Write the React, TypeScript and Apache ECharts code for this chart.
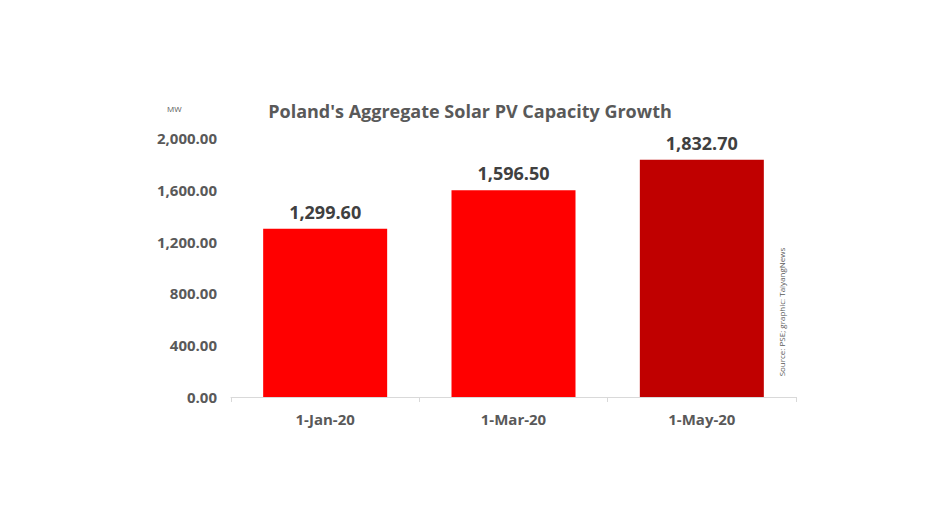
import { useEffect, useRef } from 'react';
import * as echarts from 'echarts';

const categories = ['1-Jan-20', '1-Mar-20', '1-May-20'];
const capacityMW = [1299.6, 1596.5, 1832.7];
const barColors = ['#ff0000', '#ff0000', '#c00000'];

const fmt = (v: number) =>
  v.toLocaleString('en-US', { minimumFractionDigits: 2, maximumFractionDigits: 2 });

export default function App() {
  const ref = useRef<HTMLDivElement | null>(null);

  useEffect(() => {
    document.body.style.margin = '0';
    const el = ref.current;
    if (!el) return;
    const chart = echarts.init(el, undefined, { renderer: 'svg' });
    const font = 'Open Sans, Noto Sans, sans-serif';
    chart.setOption({
      animation: false,
      backgroundColor: '#ffffff',
      textStyle: { fontFamily: font },
      title: {
        text: "Poland's Aggregate Solar PV Capacity Growth",
        left: 465,
        textAlign: 'center',
        top: 97,
        textStyle: { fontSize: 18, fontWeight: 'bold', color: '#595959', fontFamily: font },
      },
      graphic: [
        {
          type: 'text',
          left: 167,
          top: 104,
          style: { text: 'MW', fontSize: 8, fill: '#595959', fontFamily: font },
        },
        {
          type: 'text',
          x: 781,
          y: 312,
          rotation: Math.PI / 2,
          style: {
            text: 'Source: PSE; graphic: TaiyangNews',
            fontSize: 8,
            fill: '#595959',
            fontFamily: font,
            align: 'center',
            verticalAlign: 'middle',
          },
        },
      ],
      grid: { left: 231, right: 148, top: 138, bottom: 134 },
      xAxis: {
        type: 'category',
        data: categories,
        axisLine: { lineStyle: { color: '#d9d9d9' } },
        axisTick: { show: true, length: 5, lineStyle: { color: '#d9d9d9' } },
        axisLabel: { color: '#595959', fontSize: 15, fontWeight: 'bold', margin: 14 },
      },
      yAxis: {
        type: 'value',
        min: 0,
        max: 2000,
        interval: 400,
        axisLine: { show: false },
        axisTick: { show: false },
        splitLine: { show: false },
        axisLabel: {
          color: '#595959',
          fontSize: 15,
          fontWeight: 'bold',
          margin: 14,
          formatter: (v: number) => fmt(v),
        },
      },
      series: [
        {
          type: 'bar',
          barWidth: 124,
          data: capacityMW.map((v, i) => ({ value: v, itemStyle: { color: barColors[i] } })),
          label: {
            show: true,
            position: 'top',
            distance: 8,
            color: '#404040',
            fontSize: 18,
            fontWeight: 'bold',
            formatter: (p: any) => fmt(p.value),
          },
        },
      ],
    });
    return () => chart.dispose();
  }, []);

  return <div ref={ref} style={{ width: 944, height: 531 }} />;
}
